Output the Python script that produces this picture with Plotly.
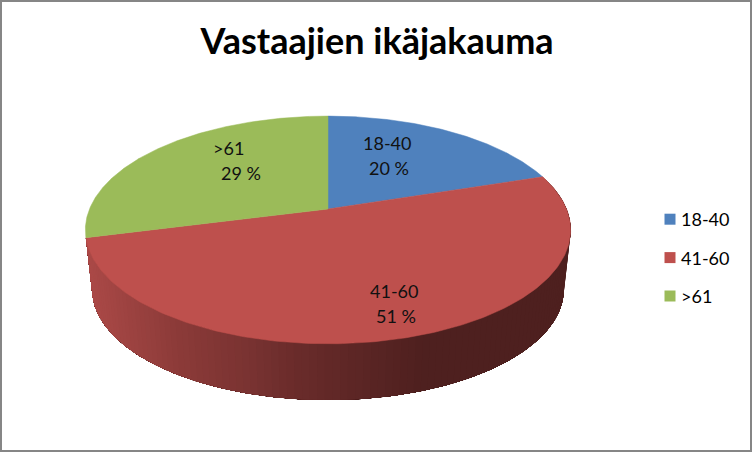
import numpy as np
import plotly.graph_objects as go

title = "Vastaajien ikäjakauma"
categories = ["18-40", "41-60", ">61"]
values = [20, 51, 29]
colors = ["#4F81BD", "#BE504D", "#9BBB59"]

# side-wall shading stops: horizontal pixel, colour
shade_x = [85, 180, 250, 300, 430, 570]
shade_r = [172, 140, 122, 106, 78, 78]
shade_g = [74, 59, 51, 44, 32, 32]
shade_b = [72, 57, 50, 43, 31, 31]

W, H = 752, 452
CX, CY, BX, BY, K = 328.0, 209.0, 238.5, 110.0, 0.184
DEPTH, SHRINK = 60.0, 0.972


def rim(angle_deg, bottom=False):
    a = np.radians(angle_deg)
    u, v = np.sin(a), -np.cos(a)
    s = 1 / (1 - K * v)
    f = SHRINK if bottom else 1.0
    return CX + BX * f * u * s, CY + (DEPTH if bottom else 0) + BY * f * v * s


total = sum(values)
edges = np.cumsum([0] + values) / total * 360.0
fig = go.Figure()

# side wall of the slice that faces the viewer (the second one); each band runs
# to the end of the wall and the next one paints over it, so no seams show
a0, a1 = edges[1], edges[2]
steps = np.linspace(a0, a1, 121)
for s0 in steps[:-1]:
    arc = np.linspace(s0, a1, max(3, int((a1 - s0) * 2)))
    tx, ty = rim(arc)
    bx, by = rim(arc[::-1], True)
    mid = rim(s0)[0]
    col = "rgb(%d,%d,%d)" % (
        np.interp(mid, shade_x, shade_r),
        np.interp(mid, shade_x, shade_g),
        np.interp(mid, shade_x, shade_b),
    )
    fig.add_trace(go.Scatter(
        x=list(tx) + list(bx), y=list(ty) + list(by), mode="lines", fill="toself",
        fillcolor=col, line=dict(width=0), showlegend=False, hoverinfo="skip"))

# top faces
for i, (name, col) in enumerate(zip(categories, colors)):
    arc = np.linspace(edges[i], edges[i + 1], 200)
    x, y = rim(arc)
    fig.add_trace(go.Scatter(
        x=[CX] + list(x) + [CX], y=[CY] + list(y) + [CY], mode="lines", fill="toself",
        fillcolor=col, line=dict(color=col, width=0.5), showlegend=False, hoverinfo="skip"))

# legend entries
for name, col in zip(categories, colors):
    fig.add_trace(go.Scatter(
        x=[None], y=[None], mode="markers", name=name, legendgroup=name,
        marker=dict(symbol="square", size=11, color=col)))

font = "Lato, Carlito, Calibri, sans-serif"
label_pos = {"18-40": ((387, 143), (389, 168)),
             "41-60": ((394, 291), (396, 316)),
             ">61": ((228, 148), (241, 173))}
ann = []
for name, v in zip(categories, values):
    (x1, y1), (x2, y2) = label_pos[name]
    ann.append(dict(x=x1, y=y1, text=name, showarrow=False, xref="x", yref="y",
                    font=dict(family=font, size=18, color="#111")))
    ann.append(dict(x=x2, y=y2, text=f"{v} %", showarrow=False, xref="x", yref="y",
                    font=dict(family=font, size=18, color="#111")))

fig.update_layout(
    width=W, height=H, margin=dict(l=0, r=0, t=0, b=0), autosize=False,
    paper_bgcolor="white", plot_bgcolor="white",
    title=dict(text=f"<b>{title}</b>", x=377 / W, xanchor="center", y=1 - 41 / H, yanchor="middle",
               font=dict(family=font, size=36, color="black")),
    xaxis=dict(range=[0, W], visible=False, fixedrange=True),
    yaxis=dict(range=[H, 0], visible=False, fixedrange=True),
    legend=dict(x=641 / W, xanchor="left", y=1 - 258 / H, yanchor="middle",
                font=dict(family=font, size=18, color="black"),
                tracegroupgap=12, bgcolor="rgba(0,0,0,0)", itemclick=False, itemdoubleclick=False),
    annotations=ann,
    shapes=[dict(type="rect", xref="paper", yref="paper", x0=0, y0=0, x1=1, y1=1,
                 line=dict(color="#868686", width=4), fillcolor="rgba(0,0,0,0)")],
)
post = """
document.body.style.margin='0';
function nudge(){document.querySelectorAll('.legendpoints').forEach(function(g){g.setAttribute('transform','translate(9,0)');});}
nudge(); setTimeout(nudge,50);
"""
fig.write_html("out.html", post_script=post, config={"displayModeBar": False})
